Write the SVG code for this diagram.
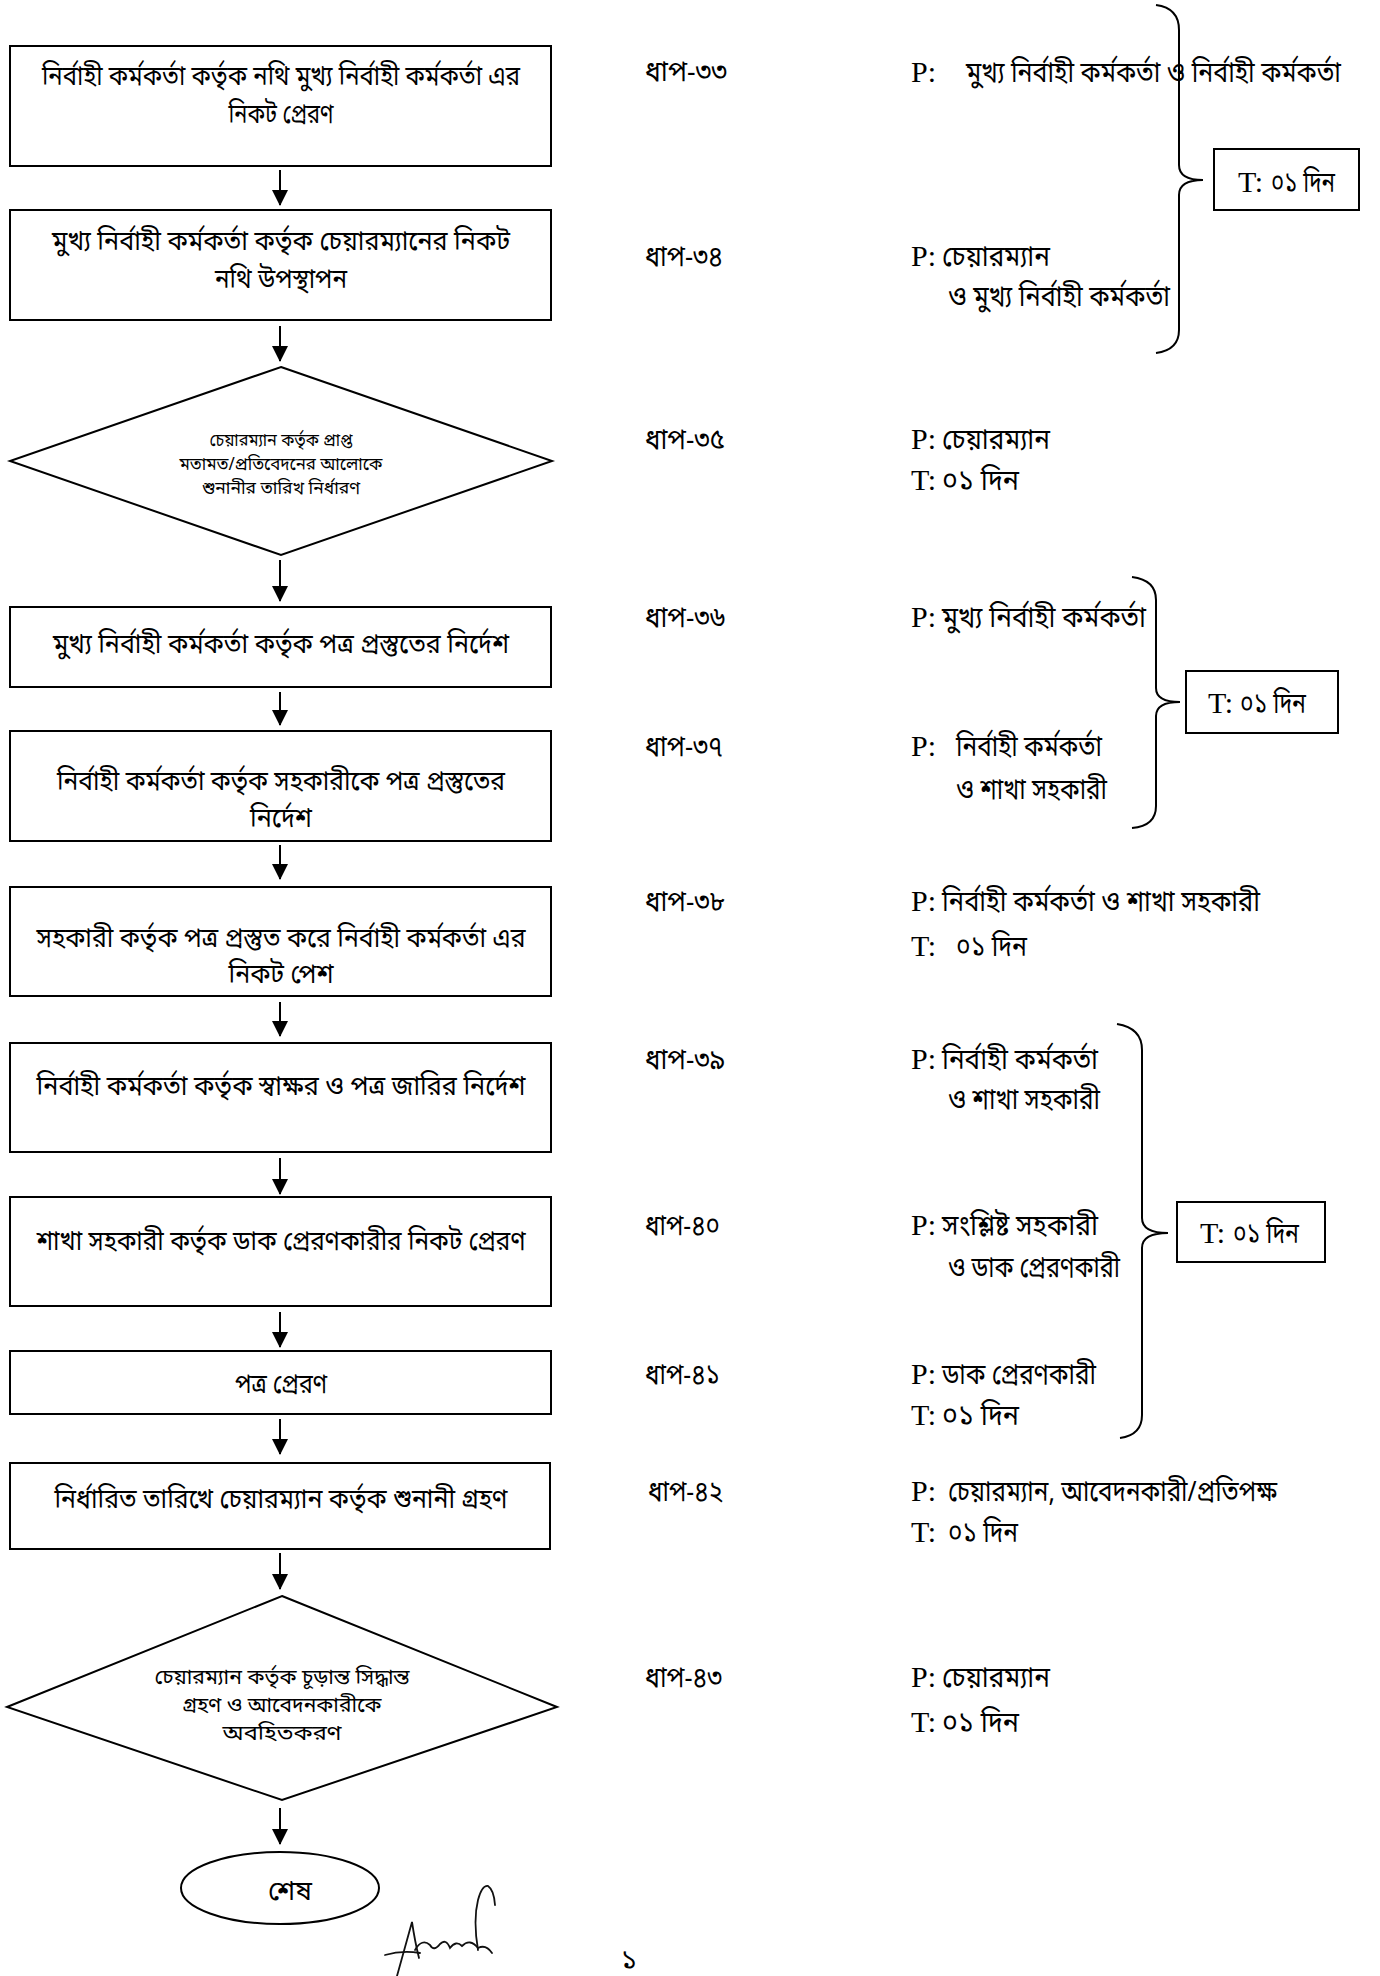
<svg xmlns="http://www.w3.org/2000/svg" width="1380" height="1976" viewBox="0 0 1380 1976">
<style>
.box{fill:#fff;stroke:#000;stroke-width:2}
.br{fill:none;stroke:#000;stroke-width:2}
.bn{font-family:"Noto Sans Bengali","Noto Serif Bengali","Lohit Bengali","FreeSans","Noto Sans",sans-serif;font-size:27px;fill:#000}
.rt{font-size:28px}
.sm{font-size:18px}
.md{font-size:20px}
.c{text-anchor:middle}
.lt{font-family:"Liberation Serif",serif;font-size:30px;fill:#000}
.con{stroke:#000;stroke-width:2;fill:none}
.sig{fill:none;stroke:#111;stroke-width:1.8;stroke-linecap:round}
</style>
<defs>
<marker id="ah" markerWidth="8" markerHeight="8" refX="7.5" refY="4" orient="auto" markerUnits="strokeWidth">
<path d="M0,0 L8,4 L0,8 z" fill="#000"/>
</marker>
</defs>
<rect width="1380" height="1976" fill="#fff"/>

<g id="connectors">
<line class="con" x1="280" y1="170" x2="280" y2="205" marker-end="url(#ah)"/>
<line class="con" x1="280" y1="326" x2="280" y2="361" marker-end="url(#ah)"/>
<line class="con" x1="280" y1="560" x2="280" y2="601" marker-end="url(#ah)"/>
<line class="con" x1="280" y1="692" x2="280" y2="725" marker-end="url(#ah)"/>
<line class="con" x1="280" y1="845" x2="280" y2="879" marker-end="url(#ah)"/>
<line class="con" x1="280" y1="1002" x2="280" y2="1036" marker-end="url(#ah)"/>
<line class="con" x1="280" y1="1158" x2="280" y2="1194" marker-end="url(#ah)"/>
<line class="con" x1="280" y1="1312" x2="280" y2="1347" marker-end="url(#ah)"/>
<line class="con" x1="280" y1="1419" x2="280" y2="1454" marker-end="url(#ah)"/>
<line class="con" x1="280" y1="1553" x2="280" y2="1589" marker-end="url(#ah)"/>
<line class="con" x1="280" y1="1808" x2="280" y2="1844" marker-end="url(#ah)"/>
</g>

<g id="n33">
<rect class="box" x="10" y="46" width="541" height="120"/>
<text class="bn c" x="281" y="85" textLength="478" lengthAdjust="spacingAndGlyphs">নির্বাহী কর্মকর্তা কর্তৃক নথি মুখ্য নির্বাহী কর্মকর্তা এর</text>
<text class="bn c" x="281" y="123" textLength="105" lengthAdjust="spacingAndGlyphs">নিকট প্রেরণ</text>
</g>
<g id="n34">
<rect class="box" x="10" y="210" width="541" height="110"/>
<text class="bn c" x="281" y="250" textLength="458" lengthAdjust="spacingAndGlyphs">মুখ্য নির্বাহী কর্মকর্তা কর্তৃক চেয়ারম্যানের নিকট</text>
<text class="bn c" x="281" y="288" textLength="132" lengthAdjust="spacingAndGlyphs">নথি উপস্থাপন</text>
</g>
<g id="n35">
<polygon class="box" points="281,367 552,461 281,555 10,461"/>
<text class="bn sm c" x="281" y="446" textLength="143" lengthAdjust="spacingAndGlyphs">চেয়ারম্যান কর্তৃক প্রাপ্ত</text>
<text class="bn sm c" x="281" y="470" textLength="203" lengthAdjust="spacingAndGlyphs">মতামত/প্রতিবেদনের আলোকে</text>
<text class="bn sm c" x="281" y="494" textLength="158" lengthAdjust="spacingAndGlyphs">শুনানীর তারিখ নির্ধারণ</text>
</g>
<g id="n36">
<rect class="box" x="10" y="607" width="541" height="80"/>
<text class="bn c" x="281" y="653" textLength="456" lengthAdjust="spacingAndGlyphs">মুখ্য নির্বাহী কর্মকর্তা কর্তৃক পত্র প্রস্তুতের নির্দেশ</text>
</g>
<g id="n37">
<rect class="box" x="10" y="731" width="541" height="110"/>
<text class="bn c" x="281" y="790" textLength="448" lengthAdjust="spacingAndGlyphs">নির্বাহী কর্মকর্তা কর্তৃক সহকারীকে পত্র প্রস্তুতের</text>
<text class="bn c" x="281" y="827" textLength="62" lengthAdjust="spacingAndGlyphs">নির্দেশ</text>
</g>
<g id="n38">
<rect class="box" x="10" y="887" width="541" height="109"/>
<text class="bn c" x="281" y="947" textLength="489" lengthAdjust="spacingAndGlyphs">সহকারী কর্তৃক পত্র প্রস্তুত করে নির্বাহী কর্মকর্তা এর</text>
<text class="bn c" x="281" y="983" textLength="105" lengthAdjust="spacingAndGlyphs">নিকট পেশ</text>
</g>
<g id="n39">
<rect class="box" x="10" y="1043" width="541" height="109"/>
<text class="bn c" x="281" y="1095" textLength="489" lengthAdjust="spacingAndGlyphs">নির্বাহী কর্মকর্তা কর্তৃক স্বাক্ষর ও পত্র জারির নির্দেশ</text>
</g>
<g id="n40">
<rect class="box" x="10" y="1197" width="541" height="109"/>
<text class="bn c" x="281" y="1250" textLength="489" lengthAdjust="spacingAndGlyphs">শাখা সহকারী কর্তৃক ডাক প্রেরণকারীর নিকট প্রেরণ</text>
</g>
<g id="n41">
<rect class="box" x="10" y="1351" width="541" height="63"/>
<text class="bn c" x="281" y="1393" textLength="92" lengthAdjust="spacingAndGlyphs">পত্র প্রেরণ</text>
</g>
<g id="n42">
<rect class="box" x="10" y="1463" width="540" height="86"/>
<text class="bn c" x="281" y="1508" textLength="453" lengthAdjust="spacingAndGlyphs">নির্ধারিত তারিখে চেয়ারম্যান কর্তৃক শুনানী গ্রহণ</text>
</g>
<g id="n43">
<polygon class="box" points="282,1596 557,1707 282,1800 7,1707"/>
<text class="bn md c" x="282" y="1684" textLength="255" lengthAdjust="spacingAndGlyphs">চেয়ারম্যান কর্তৃক চূড়ান্ত সিদ্ধান্ত</text>
<text class="bn md c" x="282" y="1712" textLength="199" lengthAdjust="spacingAndGlyphs">গ্রহণ ও আবেদনকারীকে</text>
<text class="bn md c" x="282" y="1740" textLength="119" lengthAdjust="spacingAndGlyphs">অবহিতকরণ</text>
</g>
<g id="end">
<ellipse class="box" cx="280" cy="1888" rx="99" ry="36"/>
<text class="bn c" x="290" y="1900" font-size="24" textLength="44" lengthAdjust="spacingAndGlyphs">শেষ</text>
</g>

<g id="steps">
<text class="bn rt" x="645" y="81" textLength="82" lengthAdjust="spacingAndGlyphs">ধাপ-৩৩</text>
<text class="bn rt" x="645" y="266" textLength="78" lengthAdjust="spacingAndGlyphs">ধাপ-৩৪</text>
<text class="bn rt" x="645" y="449" textLength="80" lengthAdjust="spacingAndGlyphs">ধাপ-৩৫</text>
<text class="bn rt" x="645" y="627" textLength="80" lengthAdjust="spacingAndGlyphs">ধাপ-৩৬</text>
<text class="bn rt" x="645" y="756" textLength="78" lengthAdjust="spacingAndGlyphs">ধাপ-৩৭</text>
<text class="bn rt" x="645" y="911" textLength="80" lengthAdjust="spacingAndGlyphs">ধাপ-৩৮</text>
<text class="bn rt" x="645" y="1069" textLength="80" lengthAdjust="spacingAndGlyphs">ধাপ-৩৯</text>
<text class="bn rt" x="645" y="1235" textLength="75" lengthAdjust="spacingAndGlyphs">ধাপ-৪০</text>
<text class="bn rt" x="645" y="1384" textLength="75" lengthAdjust="spacingAndGlyphs">ধাপ-৪১</text>
<text class="bn rt" x="648" y="1501" textLength="75" lengthAdjust="spacingAndGlyphs">ধাপ-৪২</text>
<text class="bn rt" x="645" y="1687" textLength="77" lengthAdjust="spacingAndGlyphs">ধাপ-৪৩</text>
</g>

<g id="people">
<text class="lt" x="911" y="82">P:</text>
<text class="bn rt" x="966" y="82" textLength="375" lengthAdjust="spacingAndGlyphs">মুখ্য নির্বাহী কর্মকর্তা ও নির্বাহী কর্মকর্তা</text>
<text class="lt" x="911" y="266">P:</text>
<text class="bn rt" x="942" y="266" textLength="108" lengthAdjust="spacingAndGlyphs">চেয়ারম্যান</text>
<text class="bn rt" x="948" y="306" textLength="222" lengthAdjust="spacingAndGlyphs">ও মুখ্য নির্বাহী কর্মকর্তা</text>
<text class="lt" x="911" y="449">P:</text>
<text class="bn rt" x="942" y="449" textLength="108" lengthAdjust="spacingAndGlyphs">চেয়ারম্যান</text>
<text class="lt" x="911" y="490">T:</text>
<text class="bn rt" x="942" y="490" textLength="77" lengthAdjust="spacingAndGlyphs">০১ দিন</text>
<text class="lt" x="911" y="627">P:</text>
<text class="bn rt" x="942" y="627" textLength="204" lengthAdjust="spacingAndGlyphs">মুখ্য নির্বাহী কর্মকর্তা</text>
<text class="lt" x="911" y="756">P:</text>
<text class="bn rt" x="956" y="756" textLength="146" lengthAdjust="spacingAndGlyphs">নির্বাহী কর্মকর্তা</text>
<text class="bn rt" x="956" y="799" textLength="151" lengthAdjust="spacingAndGlyphs">ও শাখা সহকারী</text>
<text class="lt" x="911" y="911">P:</text>
<text class="bn rt" x="942" y="911" textLength="318" lengthAdjust="spacingAndGlyphs">নির্বাহী কর্মকর্তা ও শাখা সহকারী</text>
<text class="lt" x="911" y="956">T:</text>
<text class="bn rt" x="956" y="956" textLength="71" lengthAdjust="spacingAndGlyphs">০১ দিন</text>
<text class="lt" x="911" y="1069">P:</text>
<text class="bn rt" x="942" y="1069" textLength="156" lengthAdjust="spacingAndGlyphs">নির্বাহী কর্মকর্তা</text>
<text class="bn rt" x="948" y="1109" textLength="152" lengthAdjust="spacingAndGlyphs">ও শাখা সহকারী</text>
<text class="lt" x="911" y="1235">P:</text>
<text class="bn rt" x="942" y="1235" textLength="156" lengthAdjust="spacingAndGlyphs">সংশ্লিষ্ট সহকারী</text>
<text class="bn rt" x="948" y="1277" textLength="172" lengthAdjust="spacingAndGlyphs">ও ডাক প্রেরণকারী</text>
<text class="lt" x="911" y="1384">P:</text>
<text class="bn rt" x="942" y="1384" textLength="154" lengthAdjust="spacingAndGlyphs">ডাক প্রেরণকারী</text>
<text class="lt" x="911" y="1425">T:</text>
<text class="bn rt" x="942" y="1425" textLength="77" lengthAdjust="spacingAndGlyphs">০১ দিন</text>
<text class="lt" x="911" y="1501">P:</text>
<text class="bn rt" x="948" y="1501" textLength="329" lengthAdjust="spacingAndGlyphs">চেয়ারম্যান, আবেদনকারী/প্রতিপক্ষ</text>
<text class="lt" x="911" y="1542">T:</text>
<text class="bn rt" x="948" y="1542" textLength="70" lengthAdjust="spacingAndGlyphs">০১ দিন</text>
<text class="lt" x="911" y="1687">P:</text>
<text class="bn rt" x="942" y="1687" textLength="108" lengthAdjust="spacingAndGlyphs">চেয়ারম্যান</text>
<text class="lt" x="911" y="1732">T:</text>
<text class="bn rt" x="942" y="1732" textLength="77" lengthAdjust="spacingAndGlyphs">০১ দিন</text>
</g>

<g id="brace1">
<path class="br" d="M1156,5 Q1179,8 1179,30 L1179,165 Q1179,180 1203,180 Q1179,180 1179,195 L1179,330 Q1179,350 1156,353"/>
<rect class="box" x="1214" y="149" width="145" height="61"/>
<text class="lt" x="1238" y="192">T:</text>
<text class="bn rt" x="1271" y="192" textLength="64" lengthAdjust="spacingAndGlyphs">০১ দিন</text>
</g>
<g id="brace2">
<path class="br" d="M1132,577 Q1156,580 1156,600 L1156,688 Q1156,702 1180,702 Q1156,702 1156,716 L1156,806 Q1156,826 1132,828"/>
<rect class="box" x="1186" y="671" width="152" height="62"/>
<text class="lt" x="1208" y="713">T:</text>
<text class="bn rt" x="1240" y="713" textLength="66" lengthAdjust="spacingAndGlyphs">০১ দিন</text>
</g>
<g id="brace3">
<path class="br" d="M1117,1024 Q1142,1028 1142,1050 L1142,1218 Q1142,1233 1168,1233 Q1142,1233 1142,1248 L1142,1415 Q1142,1435 1120,1438"/>
<rect class="box" x="1177" y="1202" width="148" height="60"/>
<text class="lt" x="1200" y="1243">T:</text>
<text class="bn rt" x="1233" y="1243" textLength="66" lengthAdjust="spacingAndGlyphs">০১ দিন</text>
</g>

<g id="signature">
<path class="sig" d="M385,1955 Q402,1950 420,1953"/>
<path class="sig" d="M397,1976 L412,1922 Q415,1942 419,1958"/>
<path class="sig" d="M415,1950 Q422,1938 430,1945 Q434,1952 440,1944 Q446,1938 450,1948 Q456,1940 462,1946 Q470,1938 478,1948 Q486,1944 492,1953"/>
<path class="sig" d="M478,1950 Q473,1920 478,1900 Q482,1885 488,1886 Q494,1890 495,1905"/>
</g>
<text class="bn" x="621" y="1968" font-size="16">১</text>
</svg>
